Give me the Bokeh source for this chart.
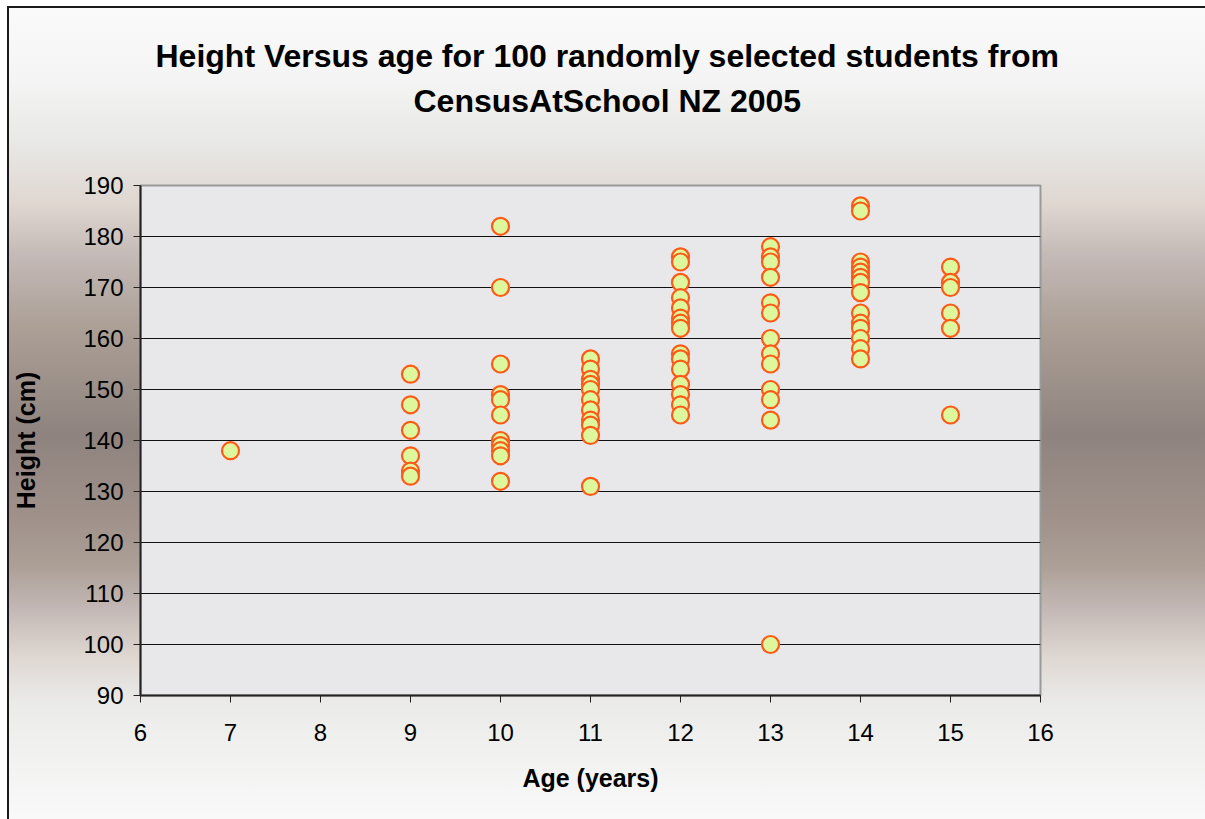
from bokeh.plotting import figure
from bokeh.models import Range1d, FixedTicker, ColumnDataSource, Title
from bokeh.embed import file_html
from bokeh.resources import INLINE

# Heights (cm) read for each age (years)
ages = [7, 9, 10, 11, 12, 13, 14, 15]
heights_age_7 = [138]
heights_age_9 = [153, 147, 142, 137, 134, 133]
heights_age_10 = [182, 170, 155, 149, 148, 145, 140, 139, 138, 137, 132]
heights_age_11 = [156, 154, 152, 151, 150, 148, 146, 144, 143, 141, 131]
heights_age_12 = [176, 175, 171, 168, 166, 164, 163, 162, 157, 156, 154, 151, 149, 147, 145]
heights_age_13 = [178, 176, 175, 172, 167, 165, 160, 157, 155, 150, 148, 144, 100]
heights_age_14 = [186, 185, 175, 174, 173, 172, 171, 169, 165, 163, 162, 160, 158, 156]
heights_age_15 = [174, 171, 170, 165, 162, 145]

x_ticks = [6, 7, 8, 9, 10, 11, 12, 13, 14, 15, 16]
y_ticks = [90, 100, 110, 120, 130, 140, 150, 160, 170, 180, 190]

title_line_1 = "Height Versus age for 100 randomly selected students from"
title_line_2 = "CensusAtSchool NZ 2005"
x_label = "Age (years)"
y_label = "Height (cm)"

groups = [heights_age_7, heights_age_9, heights_age_10, heights_age_11,
          heights_age_12, heights_age_13, heights_age_14, heights_age_15]
xs, ys = [], []
for a, hs in zip(ages, groups):
    for h in hs:
        xs.append(a)
        ys.append(h)
src = ColumnDataSource(dict(x=xs, y=ys))

FONT = "Liberation Sans"

p = figure(width=1205, height=819, output_backend="svg", toolbar_location=None,
           x_range=Range1d(6, 16), y_range=Range1d(90, 190),
           min_border_left=140, min_border_right=165,
           min_border_top=185, min_border_bottom=124)

p.styles = {
    "background-image":
        "linear-gradient(#1a1a1a,#1a1a1a), "
        "linear-gradient(#1a1a1a,#1a1a1a), "
        "linear-gradient(#ffffff,#ffffff), "
        "linear-gradient(#ffffff,#ffffff), "
        "linear-gradient(to bottom, #fbfbfb 0%, #f3f4f3 10%, #e9e9e7 17%, "
        "#dfd6d0 25%, #c4bab7 31%, #ab9f96 40%, #8f837f 53%, #9f918a 63%, "
        "#ab9f96 69%, #c1b6b3 74%, #ded6d1 80%, #ebebea 86%, #f8f9f8 100%)",
    "background-position": "7px 6px, 7px 6px, 0px 0px, 0px 0px, 0px 0px",
    "background-size": "2px 820px, 1200px 2px, 7px 820px, 1205px 6px, 1205px 819px",
    "background-repeat": "no-repeat, no-repeat, no-repeat, no-repeat, no-repeat",
}
p.border_fill_color = None
p.background_fill_color = "#e8e8eb"
p.outline_line_color = "#9a9a9a"
p.outline_line_width = 2

# first title sits farthest from the frame
p.title.text = title_line_1
p.title.text_font = FONT
p.title.text_font_size = "32px"
p.title.text_font_style = "bold"
p.title.align = "left"
p.title.offset = 15
p.title.text_color = "black"
p.title.standoff = -120

t2 = Title(text=title_line_2, text_font=FONT, text_font_size="32px",
           text_font_style="bold", align="left", offset=273,
           text_color="black", standoff=134)
p.add_layout(t2, "above")

for ax in (p.xaxis[0], p.yaxis[0]):
    ax.axis_line_color = "#222222"
    ax.axis_line_width = 2
    ax.major_tick_line_color = "#222222"
    ax.major_tick_line_width = 1
    ax.major_tick_out = 7
    ax.major_tick_in = 0
    ax.minor_tick_line_color = None
    ax.major_label_text_font = FONT
    ax.major_label_text_font_size = "24px"
    ax.major_label_text_color = "black"
    ax.axis_label_text_font = FONT
    ax.axis_label_text_font_size = "25px"
    ax.axis_label_text_font_style = "bold"
    ax.axis_label_text_color = "black"

p.xaxis.ticker = FixedTicker(ticks=x_ticks)
p.yaxis.ticker = FixedTicker(ticks=y_ticks)
p.xaxis.axis_label = x_label
p.yaxis.axis_label = y_label
p.xaxis.major_label_standoff = 21
p.yaxis.major_label_standoff = 10
p.xaxis.axis_label_standoff = 20
p.yaxis.axis_label_standoff = 40

p.xgrid.grid_line_color = None
p.ygrid.grid_line_color = "#111111"
p.ygrid.grid_line_width = 1

p.scatter("x", "y", source=src, size=17, marker="circle",
          fill_color="#def79c", line_color="#fc5a16", line_width=2.2)

open("out.html", "w").write(file_html(p, INLINE))
